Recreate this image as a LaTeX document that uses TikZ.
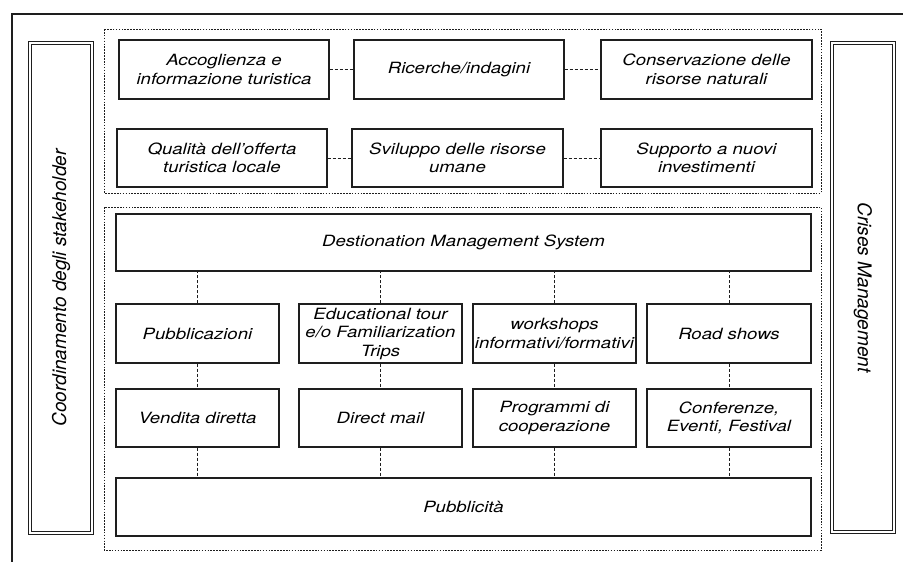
\documentclass[tikz,border=0pt]{standalone}
\usepackage{fontspec}
\setmainfont{TeX Gyre Heros}
\newfontfamily\boxfont[FakeStretch=1.2]{TeX Gyre Heros}
\usetikzlibrary{positioning}
\definecolor{inkgray}{RGB}{30,30,30}

\tikzset{
  tbox/.style={draw=inkgray, line width=1.1pt, align=center, inner sep=2pt,
    font=\boxfont\itshape\fontsize{15.5}{18.5}\selectfont},
  sidebox/.style={draw=inkgray, line width=1pt, double=white, double distance=2pt,
    inner sep=2pt, font=\itshape\fontsize{19}{22}\selectfont},
  grpframe/.style={draw=inkgray, line width=0.9pt, dash pattern=on 1.6pt off 1.3pt},
  link/.style={draw=inkgray, line width=0.9pt, dash pattern=on 3pt off 2pt}
}

\begin{document}
\begin{tikzpicture}[x=1pt, y=-1pt]
    \useasboundingbox (0,0) rectangle (903,562);
    % === outer frame (cut by the page) ===
    \draw[inkgray, line width=1.1pt] (12,562) -- (12,14) -- (903,14);

    % === side bars ===
    \node[sidebox, rotate=90, minimum width=490pt, minimum height=62pt] (coord) at (61,288) {Coordinamento degli stakeholder};
    \node[sidebox, rotate=-90, minimum width=489pt, minimum height=62pt] (crises) at (863,287.5) {Crises Management};

    % === upper group ===
    \draw[grpframe] (104,29) rectangle (821,193);
    % Row 1
    \node[tbox, minimum width=210pt, minimum height=59pt] (acc) at (224,69.5) {Accoglienza e\\informazione turistica};
    \node[tbox, minimum width=210pt, minimum height=59pt] (ric) at (459,69.5) {Ricerche/indagini};
    \node[tbox, minimum width=211pt, minimum height=59pt] (cons) at (706.5,69.5) {Conservazione delle\\risorse naturali};
    % Row 2
    \node[tbox, minimum width=210pt, minimum height=58pt] (qual) at (222,158) {Qualità dell’offerta\\turistica locale};
    \node[tbox, minimum width=211pt, minimum height=58pt] (svil) at (457.5,158) {Sviluppo delle risorse\\umane};
    \node[tbox, minimum width=211pt, minimum height=58pt] (supp) at (706.5,158) {Supporto a nuovi\\investimenti};
    % Links
    \draw[link] (acc) -- (ric);
    \draw[link] (ric) -- (cons);
    \draw[link] (qual) -- (svil);
    \draw[link] (svil) -- (supp);

    % === lower group ===
    \draw[grpframe] (104,207) rectangle (821,550);
    \node[tbox, minimum width=695pt, minimum height=57pt] (dms) at (463.5,242.5) {Destionation Management System};
    % Row of tools
    \node[tbox, minimum width=163pt, minimum height=59pt] (pubb) at (197.5,333.5) {Pubblicazioni};
    \node[tbox, minimum width=163pt, minimum height=59pt] (edu) at (380.5,333.5) {Educational tour\\e/o Familiarization\\Trips};
    \node[tbox, minimum width=163pt, minimum height=59pt] (work) at (554.5,333.5) {workshops\\informativi/formativi};
    \node[tbox, minimum width=164pt, minimum height=59pt] (road) at (729,333.5) {Road shows};
    % Second row
    \node[tbox, minimum width=163pt, minimum height=58pt] (vend) at (197.5,418) {Vendita diretta};
    \node[tbox, minimum width=163pt, minimum height=58pt] (dmail) at (380.5,418) {Direct mail};
    \node[tbox, minimum width=163pt, minimum height=58pt] (prog) at (554.5,418) {Programmi di\\cooperazione};
    \node[tbox, minimum width=164pt, minimum height=58pt] (conf) at (729,418) {Conferenze,\\Eventi, Festival};
    \node[tbox, minimum width=695pt, minimum height=58pt] (pubbl) at (463.5,507) {Pubblicità};
    % Vertical links
    \foreach \up/\dn in {pubb/vend, edu/dmail, work/prog, road/conf} {
      \draw[link] (\up.north) -- (\up.north |- dms.south);
      \draw[link] (\up) -- (\dn);
      \draw[link] (\dn.south) -- (\dn.south |- pubbl.north);
    }
\end{tikzpicture}
\end{document}
